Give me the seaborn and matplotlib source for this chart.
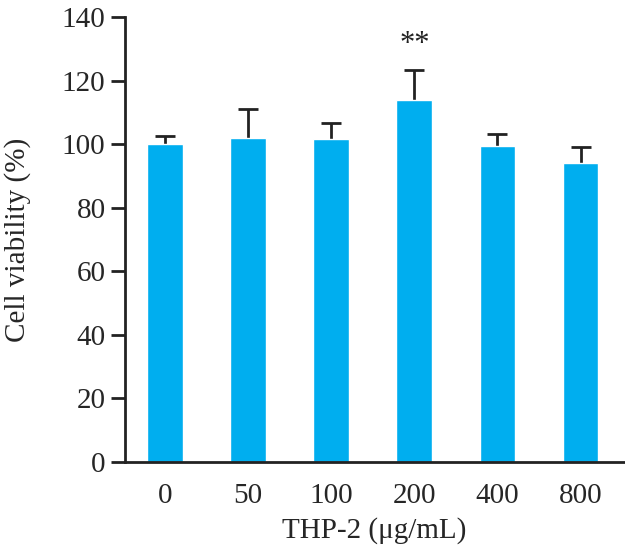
import matplotlib
matplotlib.use("Agg")
import matplotlib.pyplot as plt
import seaborn as sns
import numpy as np

categories = ["0", "50", "100", "200", "400", "800"]
means = [100.0, 102.0, 101.7, 114.0, 99.3, 94.2]
sds = [2.5, 9.0, 5.0, 9.3, 4.0, 5.0]
marks = ["", "", "", "**", "", ""]
yticks = [0, 20, 40, 60, 80, 100, 120, 140]

sns.set_style("ticks")
plt.rcParams['font.family'] = ['Liberation Serif', 'DejaVu Serif']

fig = plt.figure(figsize=(6.25, 5.5), dpi=100)
ax = fig.add_axes([0.2, 0.16, 0.798, 0.809])

sns.barplot(x=categories, y=means, order=categories, color="#00AEEF",
            saturation=1, width=0.43, ax=ax, errorbar=None, zorder=2)
xs = np.arange(len(categories))
eb = ax.errorbar(xs, means, yerr=[np.zeros(len(sds)), sds], fmt="none",
                 ecolor="#222222", elinewidth=2, capsize=7, capthick=2, zorder=1)
caps = eb[1]
if len(caps) == 2:
    caps[0].set_visible(False)
for x, m, s, t in zip(xs, means, sds, marks):
    if t:
        ax.text(x, m + s + 3.5, t, ha="center", va="bottom", fontsize=22, color="#222222")

ax.set_ylim(0, 140)
ax.set_xlim(-0.48, 5.52)
ax.set_yticks(yticks)
ax.set_yticklabels([str(v) for v in yticks])
ax.tick_params(axis="y", direction="out", length=10, width=2, labelsize=21, pad=4, color="#222222")
ax.tick_params(axis="x", length=0, labelsize=21, pad=15)
for s in ["top", "right"]:
    ax.spines[s].set_visible(False)
for s in ["left", "bottom"]:
    ax.spines[s].set_linewidth(2)
    ax.spines[s].set_color("#222222")
ax.set_ylabel("Cell viability (%)", fontsize=21, labelpad=22)
ax.set_xlabel("THP-2 (μg/mL)", fontsize=21, labelpad=6)

fig.savefig("out.png", dpi=100)
